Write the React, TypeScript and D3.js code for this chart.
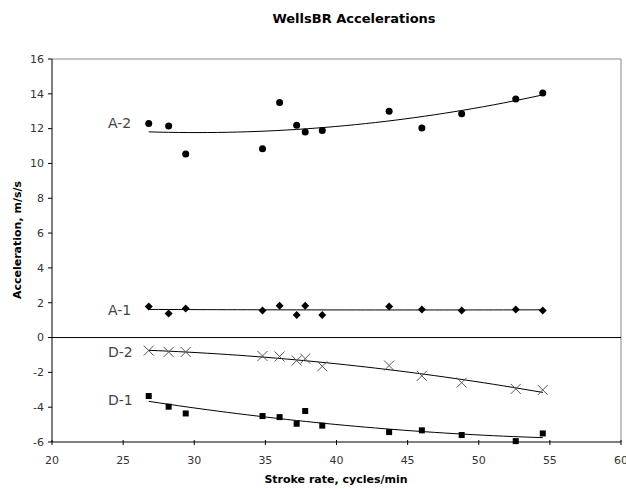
import React from 'react';
import * as d3 from 'd3';

// stroke rates shared by every series
const strokeRate = [26.8, 28.2, 29.4, 34.8, 36.0, 37.2, 37.8, 39.0, 43.7, 46.0, 48.8, 52.6, 54.5];

const a2 = [12.3, 12.15, 10.55, 10.84, 13.5, 12.2, 11.8, 11.9, 13.0, 12.03, 12.85, 13.7, 14.04];
const a1 = [1.78, 1.38, 1.67, 1.55, 1.82, 1.3, 1.82, 1.3, 1.78, 1.61, 1.55, 1.61, 1.55];
const d2 = [-0.75, -0.83, -0.83, -1.06, -1.09, -1.32, -1.21, -1.65, -1.61, -2.2, -2.59, -2.95, -3.01];
const d1 = [-3.36, -3.97, -4.36, -4.51, -4.57, -4.95, -4.22, -5.06, -5.43, -5.33, -5.6, -5.95, -5.51];

const xTicks = [20, 25, 30, 35, 40, 45, 50, 55, 60];
const yTicks = [-6, -4, -2, 0, 2, 4, 6, 8, 10, 12, 14, 16];

const seriesLabels = [
  { name: 'A-2', y: 12.3 },
  { name: 'A-1', y: 1.6 },
  { name: 'D-2', y: -0.85 },
  { name: 'D-1', y: -3.6 },
];

const W = 626;
const H = 489;
const margin = { top: 59, right: 5, bottom: 47, left: 52 };
const font = '"DejaVu Sans", Verdana, sans-serif';

// least-squares 2nd order polynomial, like Excel's trendline
function quadFit(xs: number[], ys: number[]) {
  const n = xs.length;
  let s = [0, 0, 0, 0, 0];
  let t = [0, 0, 0];
  xs.forEach((x, i) => {
    for (let k = 0; k <= 4; k++) s[k] += Math.pow(x, k);
    for (let k = 0; k <= 2; k++) t[k] += Math.pow(x, k) * ys[i];
  });
  const A = [
    [s[0], s[1], s[2], t[0]],
    [s[1], s[2], s[3], t[1]],
    [s[2], s[3], s[4], t[2]],
  ];
  for (let i = 0; i < 3; i++) {
    for (let j = i + 1; j < 3; j++) {
      const f = A[j][i] / A[i][i];
      for (let k = i; k < 4; k++) A[j][k] -= f * A[i][k];
    }
  }
  const c = [0, 0, 0];
  for (let i = 2; i >= 0; i--) {
    let v = A[i][3];
    for (let k = i + 1; k < 3; k++) v -= A[i][k] * c[k];
    c[i] = v / A[i][i];
  }
  return (x: number) => c[0] + c[1] * x + c[2] * x * x;
}

export default function App() {
  const x = d3.scaleLinear().domain([20, 60]).range([margin.left, W - margin.right]);
  const y = d3.scaleLinear().domain([-6, 16]).range([H - margin.bottom, margin.top]);

  const line = d3.line<[number, number]>().x(d => x(d[0])).y(d => y(d[1]));
  const trend = (vals: number[]) => {
    const f = quadFit(strokeRate, vals);
    const x0 = d3.min(strokeRate)!;
    const x1 = d3.max(strokeRate)!;
    const pts: [number, number][] = d3.range(0, 41).map(i => {
      const xv = x0 + ((x1 - x0) * i) / 40;
      return [xv, f(xv)];
    });
    return line(pts) || '';
  };

  const [left, right] = x.range();
  const [bottom, top] = y.range();

  return (
    <svg width={W} height={H} style={{ position: 'absolute', left: 0, top: 0, background: '#fff' }} fontFamily={font}>
      <text x={354} y={23} textAnchor="middle" fontSize={13} fontWeight="bold" fill="#000">WellsBR Accelerations</text>

      {/* plot frame */}
      <line x1={left} x2={right} y1={top} y2={top} stroke="#888" />
      <line x1={right} x2={right} y1={top} y2={bottom} stroke="#888" />
      <line x1={left} x2={left} y1={top} y2={bottom} stroke="#000" />
      <line x1={left} x2={right} y1={bottom} y2={bottom} stroke="#000" />
      <line x1={left} x2={right} y1={y(0)} y2={y(0)} stroke="#000" />

      {yTicks.map(t => (
        <g key={t}>
          <line x1={left - 4} x2={left} y1={y(t)} y2={y(t)} stroke="#000" />
          <text x={left - 8} y={y(t)} dy="0.35em" textAnchor="end" fontSize={11} fill="#333">{t}</text>
        </g>
      ))}
      {xTicks.map(t => (
        <g key={t}>
          <line x1={x(t)} x2={x(t)} y1={bottom - 2} y2={bottom + 3} stroke="#000" />
          <text x={x(t)} y={bottom + 22} textAnchor="middle" fontSize={11} fill="#333">{t}</text>
        </g>
      ))}

      <text x={336} y={483} textAnchor="middle" fontSize={11} fontWeight="bold" fill="#000">Stroke rate, cycles/min</text>
      <text transform={`translate(21,240) rotate(-90)`} textAnchor="middle" fontSize={11} fontWeight="bold" fill="#000">Acceleration, m/s/s</text>

      {/* trendlines */}
      {[a2, a1, d2, d1].map((vals, i) => (
        <path key={i} d={trend(vals)} fill="none" stroke="#000" strokeWidth={1} />
      ))}

      {/* A-2 circles */}
      {a2.map((v, i) => (
        <circle key={i} cx={x(strokeRate[i])} cy={y(v)} r={3.5} fill="#000" />
      ))}
      {/* A-1 diamonds */}
      {a1.map((v, i) => {
        const cx = x(strokeRate[i]);
        const cy = y(v);
        return <path key={i} d={`M${cx},${cy - 4}L${cx + 4},${cy}L${cx},${cy + 4}L${cx - 4},${cy}Z`} fill="#000" />;
      })}
      {/* D-2 crosses */}
      {d2.map((v, i) => {
        const cx = x(strokeRate[i]);
        const cy = y(v);
        return (
          <path key={i} d={`M${cx - 5},${cy - 5}L${cx + 5},${cy + 5}M${cx - 5},${cy + 5}L${cx + 5},${cy - 5}`} stroke="#555" strokeWidth={1} fill="none" />
        );
      })}
      {/* D-1 squares */}
      {d1.map((v, i) => (
        <rect key={i} x={x(strokeRate[i]) - 3} y={y(v) - 3} width={6} height={6} fill="#000" />
      ))}

      {seriesLabels.map(s => (
        <text key={s.name} x={108} y={y(s.y)} dy="0.35em" fontSize={14} fill="#444">{s.name}</text>
      ))}
    </svg>
  );
}
